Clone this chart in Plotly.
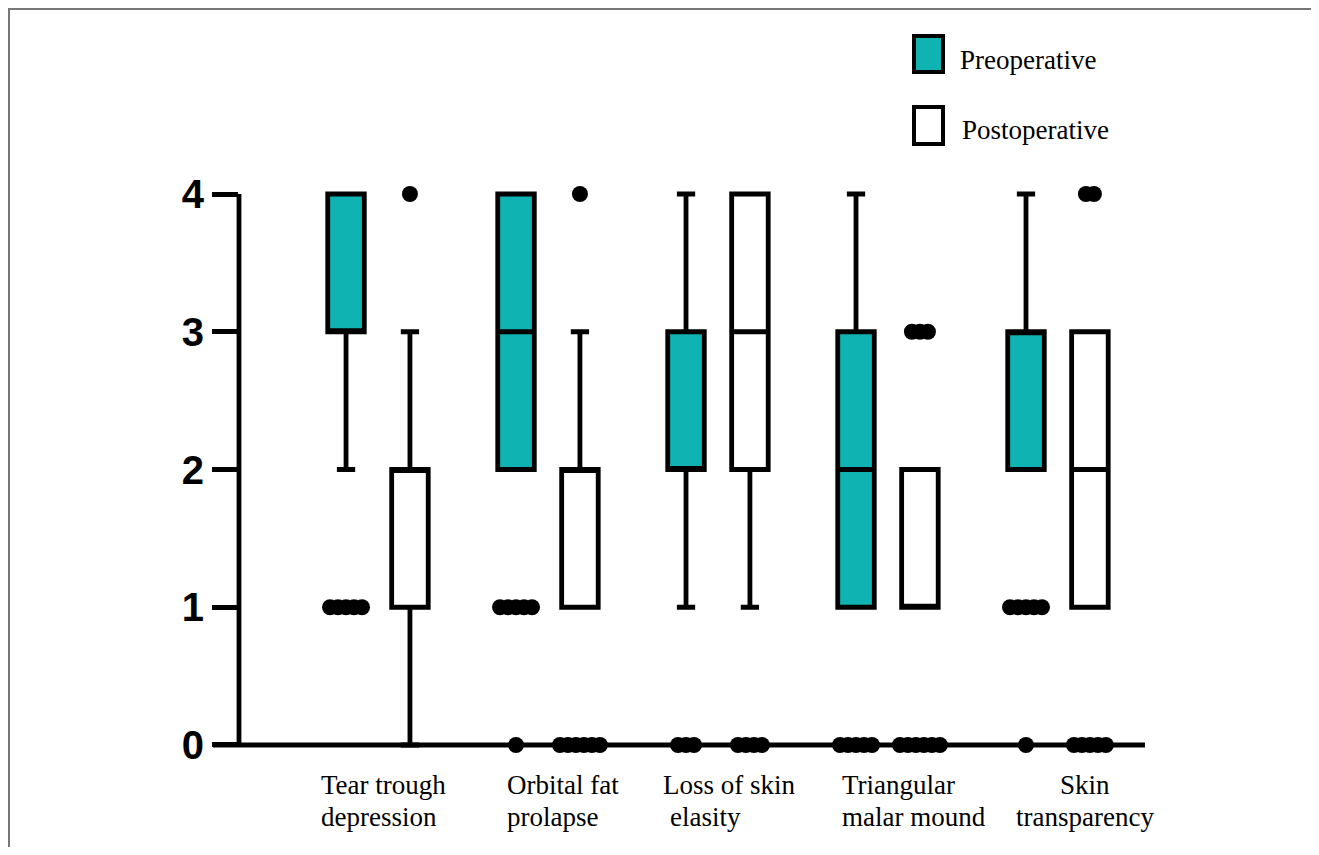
import plotly.graph_objects as go

# ---------------- data ----------------
categories = ["Tear trough<br>depression", "Orbital fat<br>prolapse", "Loss of skin<br>elasity",
              "Triangular<br>malar mound", "Skin<br>transparency"]

pre_q1 = [3, 2, 2, 1, 2]
pre_median = [3, 3, 2, 2, 3]
pre_q3 = [4, 4, 3, 3, 3]
pre_lower = [2, 2, 1, 1, 2]
pre_upper = [4, 4, 4, 4, 4]

post_q1 = [1, 1, 2, 1, 1]
post_median = [2, 2, 3, 1, 2]
post_q3 = [2, 2, 4, 2, 3]
post_lower = [0, 1, 1, 1, 1]
post_upper = [3, 3, 4, 2, 3]

# outliers: (group index, value, number of points)
pre_outliers = [(0, 1, 5), (1, 1, 5), (1, 0, 1), (2, 0, 3), (3, 0, 5), (4, 1, 5), (4, 0, 1)]
post_outliers = [(0, 4, 1), (1, 4, 1), (1, 0, 6), (2, 0, 4), (3, 3, 3), (3, 0, 6), (4, 4, 2), (4, 0, 5)]

series_names = ["Preoperative", "Postoperative"]
y_ticks = [0, 1, 2, 3, 4]

# ---------------- layout constants ----------------
PAGE = 8                      # browser body margin
W, H = 1319 - 2 * PAGE, 855 - 2 * PAGE
L, R, T, B = 239, 1145, 188, 751   # plot area in page pixels
X_RANGE = [-0.8176, 4.512]
Y_RANGE = [-0.0436, 4.0436]
OFFSET = 0.188
BOX_W = 0.215
DOT_STEP = 8 / 170.0
TEAL = "#0EB3B2"
LW = 4.8


def px_x(px):
    return (px - L) / (R - L)


def px_y(py):
    return (B - py) / (B - T)


fig = go.Figure()

n = len(categories)
pre_x = [i - OFFSET for i in range(n)]
post_x = [i + OFFSET for i in range(n)]

fig.add_trace(go.Box(
    x=pre_x, q1=pre_q1, median=pre_median, q3=pre_q3,
    lowerfence=pre_lower, upperfence=pre_upper,
    width=BOX_W, whiskerwidth=0.5, fillcolor=TEAL,
    line=dict(color="black", width=LW), name=series_names[0],
    boxpoints=False, showlegend=False))
fig.add_trace(go.Box(
    x=post_x, q1=post_q1, median=post_median, q3=post_q3,
    lowerfence=post_lower, upperfence=post_upper,
    width=BOX_W, whiskerwidth=0.5, fillcolor="white",
    line=dict(color="black", width=LW), name=series_names[1],
    boxpoints=False, showlegend=False))


def outlier_xy(outliers, sign):
    xs, ys = [], []
    for g, v, cnt in outliers:
        c = g + sign * OFFSET
        for k in range(cnt):
            xs.append(c + (k - (cnt - 1) / 2) * DOT_STEP)
            ys.append(v)
    return xs, ys


for outs, sign in ((pre_outliers, -1), (post_outliers, 1)):
    xs, ys = outlier_xy(outs, sign)
    fig.add_trace(go.Scatter(x=xs, y=ys, mode="markers", cliponaxis=False,
                             marker=dict(color="black", size=16, line=dict(width=0)),
                             showlegend=False, hoverinfo="skip"))

shapes = []
# axis lines
shapes.append(dict(type="line", xref="paper", yref="y", x0=0, x1=0, y0=0, y1=4,
                   line=dict(color="black", width=LW), layer="below"))
shapes.append(dict(type="line", xref="paper", yref="y", x0=px_x(213), x1=1, y0=0, y1=0,
                   line=dict(color="black", width=LW), layer="below"))
# image frame (top / left)
shapes.append(dict(type="line", xref="paper", yref="paper", x0=px_x(PAGE), x1=px_x(1319),
                   y0=px_y(PAGE + 1), y1=px_y(PAGE + 1), line=dict(color="#777777", width=2)))
shapes.append(dict(type="line", xref="paper", yref="paper", x0=px_x(PAGE + 1), x1=px_x(PAGE + 1),
                   y0=px_y(PAGE), y1=px_y(855), line=dict(color="#777777", width=2)))
# legend squares
for (y0, y1), fill in (((36, 72), TEAL), ((107, 144), "white")):
    shapes.append(dict(type="rect", xref="paper", yref="paper",
                       x0=px_x(914), x1=px_x(943), y0=px_y(y1), y1=px_y(y0),
                       fillcolor=fill, line=dict(color="black", width=4)))

annotations = []
serif = dict(family="Liberation Serif, Times New Roman, serif", size=27, color="black")
for name, ypx, xpx in ((series_names[0], 60, 958), (series_names[1], 130, 960)):
    annotations.append(dict(text=name, xref="paper", yref="paper", x=px_x(xpx), y=px_y(ypx),
                            xanchor="left", yanchor="middle", showarrow=False, font=serif))

# category labels: per-line anchor x in page pixels, line centre y in page pixels
label_anchor = [((319, 319), "left"), ((505, 505), "left"), ((661, 668), "left"),
                ((840, 840), "left"), ((1085, 1085), "center")]
line_y = (785, 817)
for lab, (xs_px, anchor) in zip(categories, label_anchor):
    for line_txt, xl, yl in zip(lab.split("<br>"), xs_px, line_y):
        annotations.append(dict(text=line_txt, xref="paper", yref="paper", x=px_x(xl), y=px_y(yl),
                                xanchor=anchor, yanchor="middle", showarrow=False, font=serif))

fig.update_layout(
    width=W, height=H,
    margin=dict(l=L - PAGE, r=W - (R - PAGE), t=T - PAGE, b=H - (B - PAGE), pad=0),
    paper_bgcolor="white", plot_bgcolor="white",
    boxmode="overlay",
    shapes=shapes, annotations=annotations,
    xaxis=dict(range=X_RANGE, showgrid=False, zeroline=False, showline=False,
               showticklabels=False, ticks=""),
    yaxis=dict(range=Y_RANGE, tickvals=y_ticks, ticktext=[str(v) for v in y_ticks],
               showgrid=False, zeroline=False, showline=False,
               ticks="outside", ticklen=26, tickwidth=LW, tickcolor="black",
               tickfont=dict(family="Liberation Sans, Arial, sans-serif", size=40,
                             color="black", weight="bold")),
    showlegend=False,
)

fig.write_html("out.html")
